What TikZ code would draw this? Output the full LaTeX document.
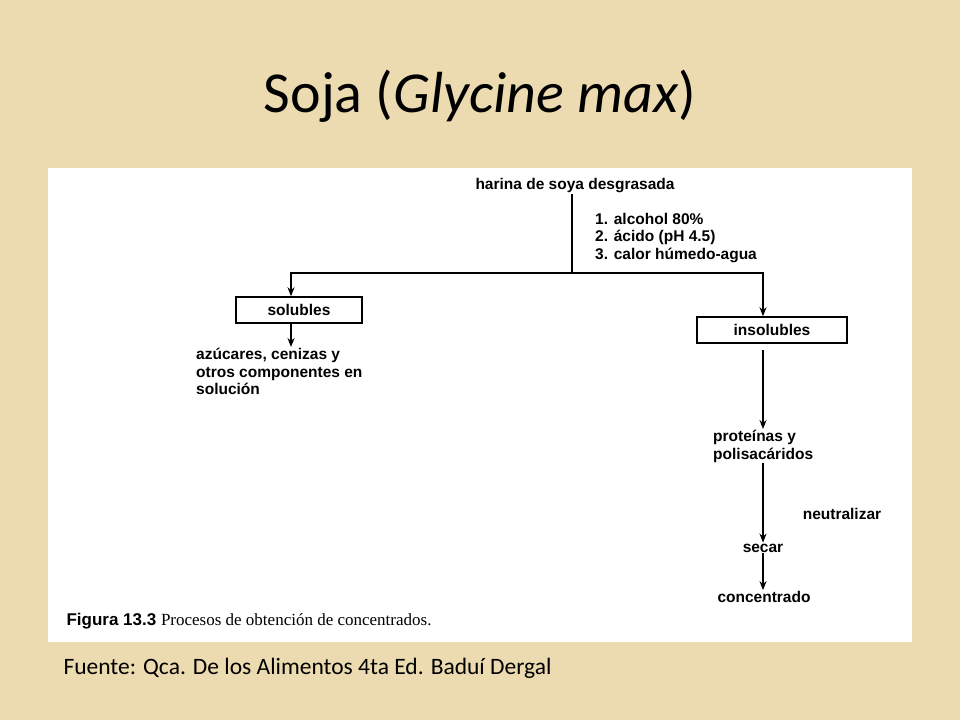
\documentclass[tikz,border=0pt]{standalone}
\usepackage{fontspec}
\setmainfont{Carlito}
\newfontfamily\helv{Liberation Sans}
\newfontfamily\tms{Liberation Serif}
\usetikzlibrary{arrows.meta, positioning}
\definecolor{parchment}{RGB}{236,219,176}
\tikzset{
	flow/.style = {font=\helv\bfseries\fontsize{15.5}{17.5}\selectfont, inner sep=1pt},
	box/.style = {flow, draw=black, line width=1.5pt, minimum height=26pt},
	arrow/.style = {line width=1.5pt, -{Stealth[length=9pt,width=7pt]}},
	line/.style = {line width=1.5pt}
}

\begin{document}
\begin{tikzpicture}[x=1pt, y=-1pt]
	\fill[parchment] (0,0) rectangle (960,720);
	\fill[white] (48,168) rectangle (912,642);
	\node (Title) at (480,96) {\fontsize{58}{62}\selectfont Soja (\textit{Glycine max})};
	\node (Harina) [flow] at (575,186) {harina de soya desgrasada};
	\node (Steps) [flow, anchor=north west, align=left] at (594,212) {1. alcohol 80\%\\2. ácido (pH 4.5)\\3. calor húmedo-agua};
	\node (Solubles) [box, minimum width=126pt] at (299,310) {solubles};
	\node (Insolubles) [box, minimum width=150pt] at (772,330) {insolubles};
	\node (Azucares) [flow, anchor=north west, align=left] at (195,347) {azúcares, cenizas y\\otros componentes en\\solución};
	\node (Proteinas) [flow, anchor=north west, align=left] at (712,429) {proteínas y\\polisacáridos};
	\node (Neutralizar) [flow] at (842,514) {neutralizar};
	\node (Secar) [flow] at (763,548) {secar};
	\node (Concentrado) [flow] at (764,597) {concentrado};
	\node (Figura) [anchor=west] at (63,621) {\helv\bfseries\fontsize{17}{19}\selectfont Figura 13.3\ \tms\mdseries\fontsize{17}{19}\selectfont Procesos de obtención de concentrados.};
	\node (Fuente) [anchor=west] at (60,668) {\fontsize{23.5}{26}\selectfont Fuente: Qca. De los Alimentos 4ta Ed. Baduí Dergal};
	\coordinate (Split) at (572,273);
	\draw [line] (Harina.south -| Split) -- (Split);
	\draw [arrow] (Split) -| (Solubles.north -| 291,0);
	\draw [arrow] (Split) -| (Insolubles.north -| 763,0);
	\draw [arrow] (Solubles.south -| 291,0) -- (291,347);
	\draw [arrow] (763,350) -- (Proteinas.north -| 763,0);
	\draw [arrow] (Proteinas.south -| 763,0) -- (Secar.north);
	\draw [arrow] (Secar.south) -- (Concentrado.north -| Secar);
\end{tikzpicture}
\end{document}
